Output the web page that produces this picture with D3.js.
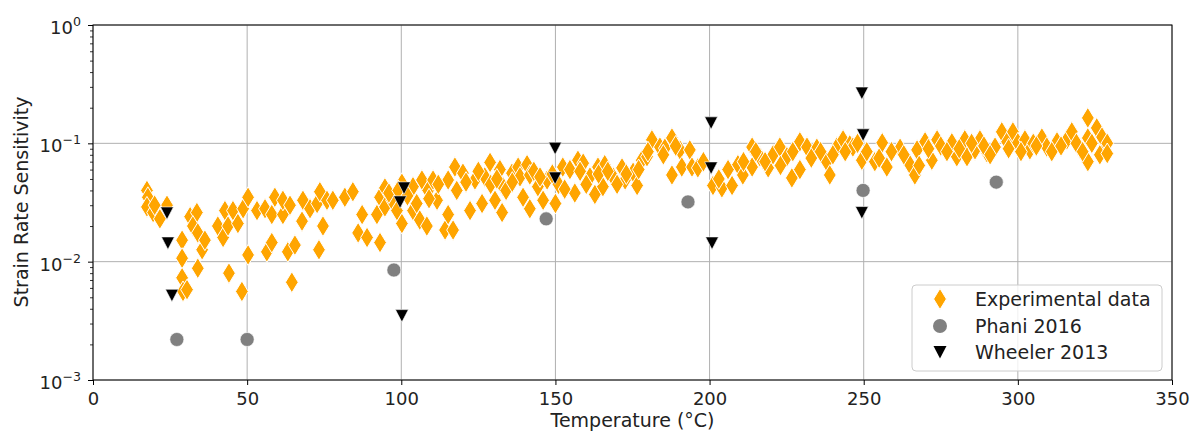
<!DOCTYPE html>
<html><head><meta charset="utf-8">
<script src="https://cdn.jsdelivr.net/npm/d3@7"></script>
<style>body{margin:0;background:#fff;} svg{display:block;font-family:"DejaVu Sans",sans-serif;}</style>
</head><body><svg id="c" width="1193" height="432"></svg>
<script>
const expT = [17.5,17.8,17.5,19.5,21.7,24.0,28.9,28.9,28.9,29.2,30.5,31.5,33.7,32.4,34.0,35.4,36.3,34.0,40.5,42.2,42.8,43.8,44.1,45.4,47.0,48.3,48.7,50.3,50.3,53.2,55.8,56.4,58.0,58.0,59.0,61.6,61.6,63.2,63.9,64.5,65.5,67.8,68.1,70.4,72.7,73.6,74.6,73.3,75.9,77.8,
81.7,84.3,87.3,86.0,88.9,93.1,92.1,93.1,94.7,94.7,97.0,98.6,100.2,100.2,103.8,103.8,106.0,106.7,108.3,108.7,110.3,111.6,114.2,115.2,115.2,116.8,117.4,120.0,122.3,123.9,126.2,127.1,128.8,130.4,132.0,132.7,133.0,135.9,137.9,138.5,139.5,140.8,141.7,141.7,144.3,146.0,147.3,150.0,152.4,154.7,156.3,157.3,
159.0,161.2,162.8,163.8,166.0,165.4,168.7,171.6,172.6,175.2,176.5,178.0,179.7,181.3,183.9,185.5,187.8,187.8,190.4,191.0,193.6,194.3,196.2,201.1,204.0,206.0,207.3,209.2,210.8,213.8,213.8,216.3,219.0,220.6,222.8,225.1,226.7,229.3,229.3,231.6,234.8,238.0,239.0,241.3,243.3,245.5,246.5,249.4,
253.6,256.0,257.5,261.8,265.0,266.6,267.3,269.9,272.1,273.8,278.6,280.2,282.8,283.5,286.1,287.7,290.0,292.6,294.8,296.5,298.4,300.0,302.3,303.9,307.8,309.4,312.7,315.9,317.5,320.1,322.7,322.7,322.7,325.6,327.3,328.2,326.6,
96,99,102,105,109,112,118,121,125,129,131,134,136,143,145,149,151,153,158,160,164,167,170,173,177,180,185,189,198,203,211,215,218,223,227,233,236,240,244,248,251,255,259,263,268,271,275,277,281,285,289,291,297,301,305,306,311,314,319,321,324,329,329,20];
const expS = [0.040,0.035,0.029,0.026,0.023,0.030,0.0152,0.0107,0.0073,0.0056,0.0058,0.024,0.026,0.020,0.0175,0.0126,0.0152,0.0088,0.020,0.016,0.027,0.020,0.0080,0.027,0.021,0.0056,0.028,0.035,0.0114,0.027,0.028,0.0121,0.0145,0.025,0.035,0.025,0.033,0.0121,0.030,0.0067,0.0138,0.022,0.033,0.028,0.031,0.039,0.020,0.0126,0.033,0.033,
0.035,0.039,0.025,0.0175,0.016,0.0145,0.025,0.035,0.042,0.029,0.033,0.027,0.021,0.046,0.027,0.043,0.0225,0.049,0.020,0.040,0.049,0.033,0.0185,0.049,0.025,0.0185,0.063,0.056,0.027,0.049,0.031,0.052,0.069,0.033,0.060,0.026,0.043,0.056,0.063,0.052,0.035,0.066,0.054,0.028,0.043,0.033,0.049,0.031,0.063,0.060,0.038,0.072,
0.068,0.052,0.037,0.063,0.066,0.043,0.052,0.062,0.049,0.057,0.044,0.072,0.077,0.107,0.093,0.091,0.111,0.054,0.088,0.063,0.088,0.063,0.062,0.044,0.042,0.060,0.044,0.066,0.054,0.093,0.063,0.077,0.062,0.080,0.093,0.077,0.051,0.103,0.060,0.093,0.091,0.070,0.054,0.093,0.107,0.097,0.093,0.072,
0.070,0.101,0.063,0.091,0.066,0.054,0.088,0.103,0.072,0.107,0.101,0.077,0.107,0.077,0.088,0.107,0.083,0.093,0.125,0.103,0.125,0.101,0.107,0.088,0.111,0.093,0.103,0.107,0.125,0.091,0.164,0.111,0.070,0.135,0.113,0.088,0.080,
0.038,0.040,0.036,0.031,0.034,0.045,0.040,0.047,0.058,0.045,0.050,0.040,0.047,0.058,0.052,0.055,0.045,0.041,0.058,0.045,0.055,0.058,0.045,0.055,0.060,0.085,0.080,0.095,0.070,0.050,0.070,0.085,0.070,0.065,0.085,0.075,0.085,0.080,0.085,0.100,0.085,0.075,0.085,0.080,0.065,0.090,0.095,0.085,0.090,0.100,0.095,0.080,0.090,0.085,0.100,0.095,0.085,0.095,0.100,0.085,0.100,0.100,0.082,0.030];
const phaniT = [27.2, 50.0, 97.6, 147.0, 193.0, 249.8, 293.0];
const phaniS = [0.0022, 0.0022, 0.0085, 0.023, 0.032, 0.040, 0.047];
const wheelerT = [24.0, 24.3, 25.6, 100.9, 99.6, 100.2, 149.9, 149.9, 200.5, 200.5, 200.8, 249.4, 249.8, 249.4];
const wheelerS = [0.0258, 0.0144, 0.0052, 0.042, 0.032, 0.0035, 0.091, 0.051, 0.149, 0.062, 0.0144, 0.266, 0.118, 0.026];
const xTicks = [0, 50, 100, 150, 200, 250, 300, 350];
const yTicks = [0.001, 0.01, 0.1, 1];
const yTickExp = ["−3", "−2", "−1", "0"];
const seriesNames = ["Experimental data", "Phani 2016", "Wheeler 2013"];
const xLabel = "Temperature (°C)";
const yLabel = "Strain Rate Sensitivity";

const svg = d3.select("#c");
const L = 93, R = 1172, T = 25, B = 380;
const x = d3.scaleLinear().domain([0, 350]).range([L, R]);
const y = d3.scaleLog().domain([0.001, 1]).range([B, T]);

// grid
const grid = svg.append("g");
grid.selectAll(".gx").data(xTicks).join("line")
  .attr("x1", d => x(d)).attr("x2", d => x(d)).attr("y1", T).attr("y2", B)
  .attr("stroke", "#b0b0b0").attr("stroke-width", 1);
grid.selectAll(".gy").data(yTicks).join("line")
  .attr("x1", L).attr("x2", R).attr("y1", d => y(d)).attr("y2", d => y(d))
  .attr("stroke", "#b0b0b0").attr("stroke-width", 1);

// markers
const diamond = "M0,-10.5L6.4,0L0,10.5L-6.4,0Z";
const tri = "M-6.5,-6L6.5,-6L0,6.5Z";
const expData = expT.map((t, i) => [t, expS[i]]);
svg.append("g").selectAll("path").data(expData).join("path")
  .attr("d", diamond).attr("transform", d => `translate(${x(d[0])},${y(d[1])})`)
  .attr("fill", "#FFA500").attr("stroke", "#fff").attr("stroke-width", 1);
const phData = phaniT.map((t, i) => [t, phaniS[i]]);
svg.append("g").selectAll("circle").data(phData).join("circle")
  .attr("cx", d => x(d[0])).attr("cy", d => y(d[1])).attr("r", 7)
  .attr("fill", "#808080").attr("stroke", "#fff").attr("stroke-width", 0.6);
const whData = wheelerT.map((t, i) => [t, wheelerS[i]]);
svg.append("g").selectAll("path").data(whData).join("path")
  .attr("d", tri).attr("transform", d => `translate(${x(d[0])},${y(d[1])})`)
  .attr("fill", "#000").attr("stroke", "#fff").attr("stroke-width", 0.6);

// axes
const xAxis = svg.append("g").attr("transform", `translate(0,${B})`)
  .call(d3.axisBottom(x).tickValues(xTicks).tickSize(5).tickPadding(7).tickFormat(d3.format("d")));
xAxis.select(".domain").remove();
xAxis.selectAll("text").attr("font-size", 18).attr("font-family", "DejaVu Sans").attr("fill", "#222");
xAxis.selectAll("line").attr("stroke", "#000").attr("stroke-width", 1);

const minor = [];
for (let e = -3; e < 0; e++) for (let m = 2; m <= 9; m++) minor.push(m * Math.pow(10, e));
const yMinor = svg.append("g").attr("transform", `translate(${L},0)`)
  .call(d3.axisLeft(y).tickValues(minor).tickSize(3).tickFormat(""));
yMinor.select(".domain").remove();
yMinor.selectAll("line").attr("stroke", "#000").attr("stroke-width", 0.8);
const yAxis = svg.append("g").attr("transform", `translate(${L},0)`)
  .call(d3.axisLeft(y).tickValues(yTicks).tickSize(5).tickFormat(""));
yAxis.select(".domain").remove();
yAxis.selectAll("line").attr("stroke", "#000").attr("stroke-width", 1);
const yl = svg.append("g").selectAll("text").data(yTicks).join("text")
  .attr("x", 81).attr("y", d => y(d) + 9).attr("text-anchor", "end")
  .attr("font-size", 18).attr("fill", "#222");
yl.append("tspan").text("10");
yl.append("tspan").attr("dy", -8).attr("font-size", 12.6).text((d, i) => yTickExp[i]);

// frame
svg.append("rect").attr("x", L).attr("y", T).attr("width", R - L).attr("height", B - T)
  .attr("fill", "none").attr("stroke", "#000").attr("stroke-width", 1);

// labels
svg.append("text").attr("x", (L + R) / 2).attr("y", 427).attr("text-anchor", "middle")
  .attr("font-size", 19).attr("fill", "#222").text(xLabel);
svg.append("text").attr("transform", "translate(21,202) rotate(-90)").attr("dy", "0.35em")
  .attr("text-anchor", "middle").attr("font-size", 19).attr("fill", "#222").text(yLabel);

// legend
const lg = svg.append("g");
lg.append("rect").attr("x", 912).attr("y", 285).attr("width", 250).attr("height", 86).attr("rx", 4)
  .attr("fill", "#fff").attr("fill-opacity", 0.8).attr("stroke", "#cccccc").attr("stroke-width", 1);
const rows = [299, 326, 352];
const rowG = lg.selectAll("g").data(seriesNames).join("g").attr("transform", (d, i) => `translate(0,${rows[i]})`);
rowG.filter((d, i) => i === 0).append("path").attr("d", diamond).attr("transform", "translate(940,0)")
  .attr("fill", "#FFA500").attr("stroke", "#fff").attr("stroke-width", 1);
rowG.filter((d, i) => i === 1).append("circle").attr("cx", 940).attr("r", 7).attr("fill", "#808080");
rowG.filter((d, i) => i === 2).append("path").attr("d", tri).attr("transform", "translate(940,0)").attr("fill", "#000");
rowG.append("text").attr("x", 975).attr("y", 7).attr("font-size", 19).attr("fill", "#222").text(d => d);
</script></body></html>
